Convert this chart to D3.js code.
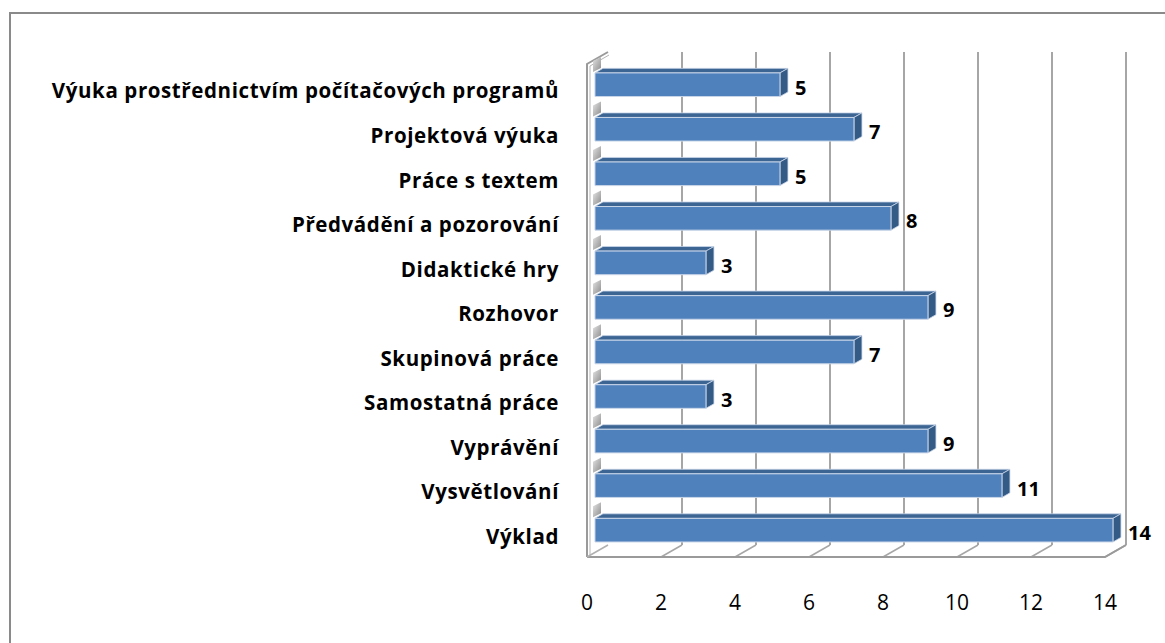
<!DOCTYPE html>
<html>
<head>
    <meta charset="utf-8">
    <title></title>
    <script src="https://d3js.org/d3.v7.min.js"></script>
    <style>
        html, body { margin: 0; padding: 0; background: white; }
        text { font-family: "Open Sans", Lato, sans-serif; }
    </style>
</head>
<body>
<div id="chart"></div>
<script>
    // categories top to bottom
    const categories = [
        "Výuka prostřednictvím počítačových programů",
        "Projektová výuka",
        "Práce s textem",
        "Předvádění a pozorování",
        "Didaktické hry",
        "Rozhovor",
        "Skupinová práce",
        "Samostatná práce",
        "Vyprávění",
        "Vysvětlování",
        "Výklad"
    ];
    const values = [5, 7, 5, 8, 3, 9, 7, 3, 9, 11, 14];
    const tickValues = [0, 2, 4, 6, 8, 10, 12, 14];

    const W = 1165, H = 643;
    // 3d depth vector (front plane -> back wall)
    const depth = { dx: 21, dy: -12 };
    const barD1 = 0.38, barD2 = 0.76;

    const svg = d3.select("#chart").append("svg")
        .attr("width", W).attr("height", H);

    svg.append("rect").attr("width", W).attr("height", H).attr("fill", "white");
    // outer frame
    svg.append("rect")
        .attr("x", 10).attr("y", 13)
        .attr("width", W + 20).attr("height", H + 20)
        .attr("fill", "none").attr("stroke", "#8a8a8a").attr("stroke-width", 2);

    const x = d3.scaleLinear().domain([0, 14]).range([587, 1105]);
    const y = d3.scaleBand().domain(categories).range([67, 557]).paddingInner(0.47).paddingOuter(0.235);
    const floorY = 557, topY = 64;

    const defs = svg.append("defs");
    const grad = defs.append("linearGradient").attr("id", "wallGrad")
        .attr("x1", "0").attr("y1", "0").attr("x2", "1").attr("y2", "1");
    grad.append("stop").attr("offset", "0").attr("stop-color", "#e4e4e4");
    grad.append("stop").attr("offset", "1").attr("stop-color", "#8c8c8c");

    const pt = (px, py, d) => [px + depth.dx * d, py + depth.dy * d];
    const poly = pts => pts.map(p => p.join(",")).join(" ");

    // back wall gridlines
    const grid = svg.append("g");
    tickValues.filter(v => v > 0).forEach(v => {
        const [bx, by] = pt(x(v), floorY, 1);
        const [tx, ty] = pt(x(v), topY, 1);
        grid.append("line")
            .attr("x1", bx).attr("y1", by).attr("x2", tx).attr("y2", ty)
            .attr("stroke", "#a6a6a6").attr("stroke-width", 2);
        // floor
        grid.append("line")
            .attr("x1", x(v)).attr("y1", floorY).attr("x2", bx).attr("y2", by)
            .attr("stroke", "#a6a6a6").attr("stroke-width", 1.5);
    });

    // left wall
    const wall = svg.append("g");
    wall.append("polygon")
        .attr("points", poly([[x(0), topY], pt(x(0), topY, 1), pt(x(0), floorY, 1), [x(0), floorY]]))
        .attr("fill", "white");
    wall.append("polyline")
        .attr("points", poly([[x(0), floorY], [x(0), topY], pt(x(0), topY, 1)]))
        .attr("fill", "none").attr("stroke", "#9a9a9a").attr("stroke-width", 2);
    wall.append("polyline")
        .attr("points", poly([[x(0) + 3, floorY - 2], [x(0) + 3, topY + 2], pt(x(0) + 1, topY + 3, 1)]))
        .attr("fill", "none").attr("stroke", "#b5b5b5").attr("stroke-width", 1);
    // floor front edge and right edge
    wall.append("polyline")
        .attr("points", poly([[x(0), floorY], [x(14), floorY], pt(x(14), floorY, 1)]))
        .attr("fill", "none").attr("stroke", "#9a9a9a").attr("stroke-width", 2);
    wall.append("line")
        .attr("x1", x(0)).attr("y1", floorY)
        .attr("x2", pt(x(0), floorY, 1)[0]).attr("y2", pt(x(0), floorY, 1)[1])
        .attr("stroke", "#b0b0b0").attr("stroke-width", 1.5);

    // shaded wall patches between bars
    categories.forEach(c => {
        const yt = y(c) + depth.dy * barD1;
        const x0 = x(0) + 6, x1 = x(0) + 14;
        wall.append("polygon")
            .attr("points", poly([[x0, yt - 1], [x0, yt - 12], [x1, yt - 16], [x1, yt - 5]]))
            .attr("fill", "url(#wallGrad)");
    });

    // bars
    const bars = svg.append("g");
    categories.forEach((c, i) => {
        const v = values[i];
        const yT = y(c), yB = y(c) + y.bandwidth();
        const fl = pt(x(0), yT, barD1), fr = pt(x(v), yT, barD1);
        const flb = pt(x(0), yB, barD1), frb = pt(x(v), yB, barD1);
        const bl = pt(x(0), yT, barD2), br = pt(x(v), yT, barD2);
        const brb = pt(x(v), yB, barD2);
        // top face
        bars.append("polygon").attr("points", poly([fl, fr, br, bl]))
            .attr("fill", "#3c6594").attr("stroke", "#c9d6e8").attr("stroke-width", 0.8);
        // side face
        bars.append("polygon").attr("points", poly([fr, br, brb, frb]))
            .attr("fill", "#345a86").attr("stroke", "#c9d6e8").attr("stroke-width", 0.8);
        // front face
        bars.append("polygon").attr("points", poly([fl, fr, frb, flb]))
            .attr("fill", "#4f81bd").attr("stroke", "#c9d6e8").attr("stroke-width", 1);

        svg.append("text")
            .attr("x", br[0] + 7)
            .attr("y", (fr[1] + frb[1]) / 2 + 3)
            .attr("dy", "0.35em")
            .style("font-size", "20px").style("font-weight", "bold").style("fill", "#000")
            .text(v);
    });

    // category labels
    svg.append("g").selectAll("text")
        .data(categories).enter().append("text")
        .attr("x", 559)
        .attr("y", d => y(d) + y.bandwidth() / 2 + 2)
        .attr("dy", "0.35em")
        .attr("text-anchor", "end")
        .style("font-size", "20.5px").style("font-weight", "bold")
        .style("letter-spacing", "0.6px").style("fill", "#000")
        .text(d => d);

    // value axis labels
    svg.append("g").selectAll("text")
        .data(tickValues).enter().append("text")
        .attr("x", d => x(d))
        .attr("y", 610)
        .attr("text-anchor", "middle")
        .style("font-size", "21px").style("fill", "#000")
        .text(d => d);
</script>
</body>
</html>
